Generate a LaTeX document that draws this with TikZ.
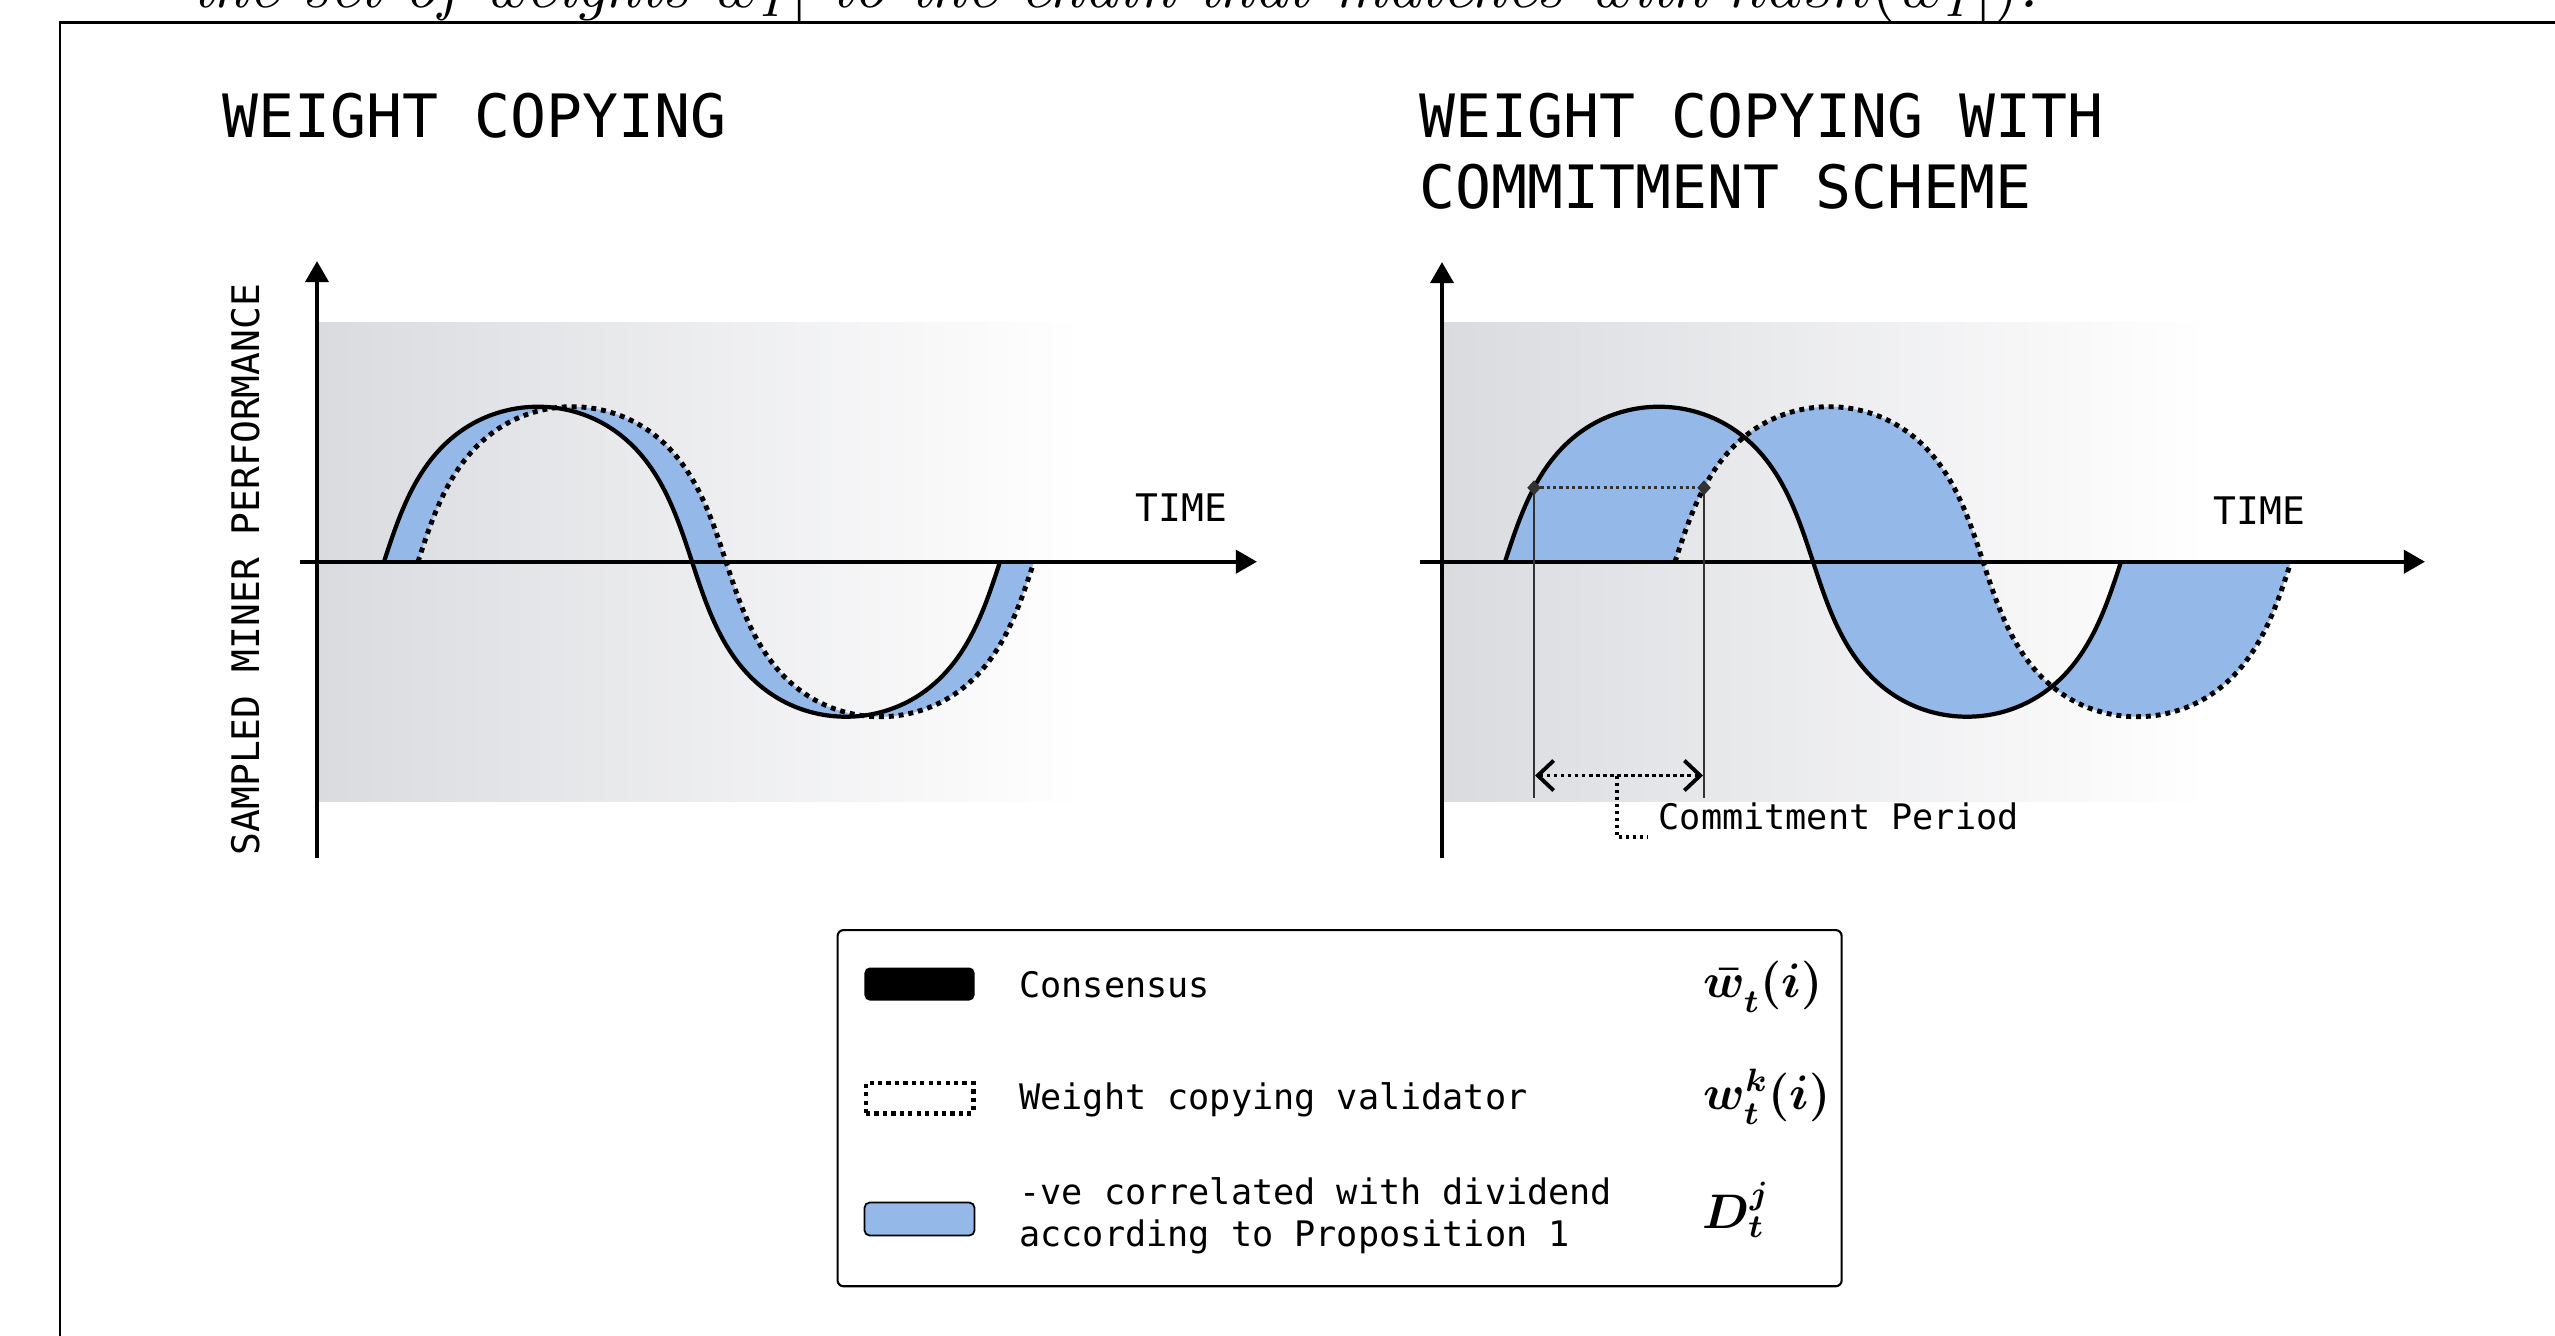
\documentclass[tikz,border=0pt]{standalone}
\usepackage{fontspec}
\usepackage{graphicx}
\newfontfamily\monof{DejaVu Sans Mono}
\usetikzlibrary{arrows.meta,shapes.geometric}
\definecolor{wblue}{RGB}{148,185,232}
\definecolor{bggray}{RGB}{218,219,223}
\definecolor{dgray}{RGB}{50,50,50}
\tikzset{
 mono/.style={inner sep=0pt, font=\monof\fontsize{10}{12}\selectfont, anchor=base west},
 titletxt/.style={inner sep=0pt, font=\monof\fontsize{17}{20.4}\selectfont, anchor=base west},
 labtxt/.style={inner sep=0pt, font=\monof\fontsize{10.8}{13}\selectfont, anchor=base west},
 axisline/.style={line width=1.25pt, -{Triangle[length=6pt,width=6.5pt]}},
 consensus/.style={line width=1.2pt, black},
 copier/.style={line width=1.4pt, black, dash pattern=on 1.4pt off 1.4pt},
 bandfill/.style={fill=wblue},
 bgshade/.style={left color=bggray, right color=white},
 marker/.style={diamond, fill=dgray, inner sep=0pt, minimum width=4pt, minimum height=4.4pt},
 guide/.style={line width=0.5pt, dgray},
 hguide/.style={line width=0.9pt, dgray, dash pattern=on 0.9pt off 0.9pt},
 periodarrow/.style={line width=1.1pt, dash pattern=on 1pt off 1pt, {Straight Barb[length=4.5pt,width=8.5pt]}-{Straight Barb[length=4.5pt,width=8.5pt]}},
 leader/.style={line width=1pt, dash pattern=on 1pt off 1pt},
 swatch/.style={minimum width=1.1cm, minimum height=0.33cm, inner sep=0pt, rounded corners=1.5pt},
 mathtxt/.style={inner sep=0pt, font=\fontsize{12}{14}\selectfont\boldmath, anchor=base west},
 frameline/.style={line width=0.85pt, black},
}
\begin{document}
\begin{tikzpicture}[x=0.01cm,y=-0.01cm]
\useasboundingbox (0,0) rectangle (2555,1335);

% cut-off text line at the top
\begin{scope}
\clip (0,0) rectangle (2555,21.5);
\node[inner sep=0pt, anchor=base west] (toptext) at (192,7)
  {\resizebox{18.45cm}{!}{\itshape the set of weights $w_I|$ to the chain that matches with $hash(w_I|)$.}};
\end{scope}
% frame
\draw[frameline] (60,1345) -- (60,22.5) -- (2565,22.5);

% ---------------- left panel ----------------
\node[titletxt] (title1) at (222,137) {WEIGHT COPYING};
\shade[bgshade] (317,322.5) rectangle (1083,801);
\fill[bandfill] plot[domain=0:360,samples=241] ({384+1.7111*(\x-13.84*sin(2*\x))},{561.7-155*sin(\x)})
  -- (1034,561.7)
  -- plot[domain=0:360,samples=241] ({418+1.7111*((360-\x)-13.84*sin(2*(360-\x)))},{561.7-155*sin(360-\x)}) -- cycle;
\coordinate (yb1) at (317,858);
\coordinate (yt1) at (317,261);
\coordinate (xl1) at (300,561.7);
\coordinate (xr1) at (1257,561.7);
\draw[axisline] (yb1) -- (yt1);
\draw[axisline] (xl1) -- (xr1);
\draw[consensus] plot[domain=0:360,samples=241] ({384+1.7111*(\x-13.84*sin(2*\x))},{561.7-155*sin(\x)});
\draw[copier] plot[domain=0:360,samples=241] ({418+1.7111*(\x-13.84*sin(2*\x))},{561.7-155*sin(\x)});
\node[labtxt] (time1) at (1135,521) {TIME};
\node[labtxt, rotate=90] (ylab) at (259.6,856) {SAMPLED MINER PERFORMANCE};

% ---------------- right panel ----------------
\node[titletxt] (title2a) at (1419,137) {WEIGHT COPYING WITH};
\node[titletxt] (title2b) at (1419,208.6) {COMMITMENT SCHEME};
\shade[bgshade] (1442,322.5) rectangle (2208,801);
\fill[bandfill] plot[domain=0:360,samples=241] ({1505+1.7111*(\x-13.84*sin(2*\x))},{561.7-155*sin(\x)})
  -- (2291,561.7)
  -- plot[domain=0:360,samples=241] ({1675+1.7111*((360-\x)-13.84*sin(2*(360-\x)))},{561.7-155*sin(360-\x)}) -- cycle;
\coordinate (yb2) at (1442,858);
\coordinate (yt2) at (1442,262);
\coordinate (xl2) at (1420,561.7);
\coordinate (xr2) at (2425,561.7);
\draw[axisline] (yb2) -- (yt2);
\draw[axisline] (xl2) -- (xr2);
\draw[consensus] plot[domain=0:360,samples=241] ({1505+1.7111*(\x-13.84*sin(2*\x))},{561.7-155*sin(\x)});
\draw[copier] plot[domain=0:360,samples=241] ({1675+1.7111*(\x-13.84*sin(2*\x))},{561.7-155*sin(\x)});
\node[labtxt] (time2) at (2213,524) {TIME};

% commitment period markers
\coordinate (d1c) at (1534,487.7);
\coordinate (d2c) at (1704,487.7);
\coordinate (b1) at (1534,798);
\coordinate (b2) at (1704,798);
\draw[guide] (d1c) -- (b1);
\draw[guide] (d2c) -- (b2);
\draw[hguide] (d1c) -- (d2c);
\node[marker] (d1) at (d1c) {};
\node[marker] (d2) at (d2c) {};
\coordinate (a1) at (1535,775.5);
\coordinate (a2) at (1703,775.5);
\coordinate (am) at (1617,775.5);
\draw[periodarrow] (a1) -- (a2);
\node[mono] (cp) at (1658,829) {Commitment Period};
\coordinate (cc) at (1647,837);
\draw[leader] (am) |- (cc);

% ---------------- legend ----------------
\node[draw=black, line width=0.6pt, rounded corners=1.7pt, minimum width=10.035cm, minimum height=3.56cm,
      inner sep=0pt, anchor=north west] (legend) at (836.5,929) {};
\node[swatch, fill=black] (sw1) at (919.5,984) {};
\node[swatch, draw=black, line width=1.4pt, dash pattern=on 1.2pt off 1.2pt, rounded corners=0pt,
      minimum width=1.07cm, minimum height=0.3cm] (sw2) at (919.5,1098) {};
\node[swatch, fill=wblue, draw=black, line width=0.5pt] (sw3) at (919.5,1219) {};
\node[mono] (l1) at (1018.6,997) {Consensus};
\node[mono] (l2) at (1018.6,1109) {Weight copying validator};
\node[mono] (l3a) at (1018.6,1204) {-ve correlated with dividend};
\node[mono] (l3b) at (1018.6,1246.6) {according to Proposition 1};
\node[mathtxt] (m1) at (1703,997) {\scalebox{1.15}{$\bar{w}^{}_{t}(i)$}};
\node[mathtxt] (m2) at (1703,1109) {\scalebox{1.15}{$w^{k}_{t}(i)$}};
\node[mathtxt] (m3) at (1702,1228) {\scalebox{1.15}{$D^{j}_{t}$}};
\end{tikzpicture}
\end{document}
